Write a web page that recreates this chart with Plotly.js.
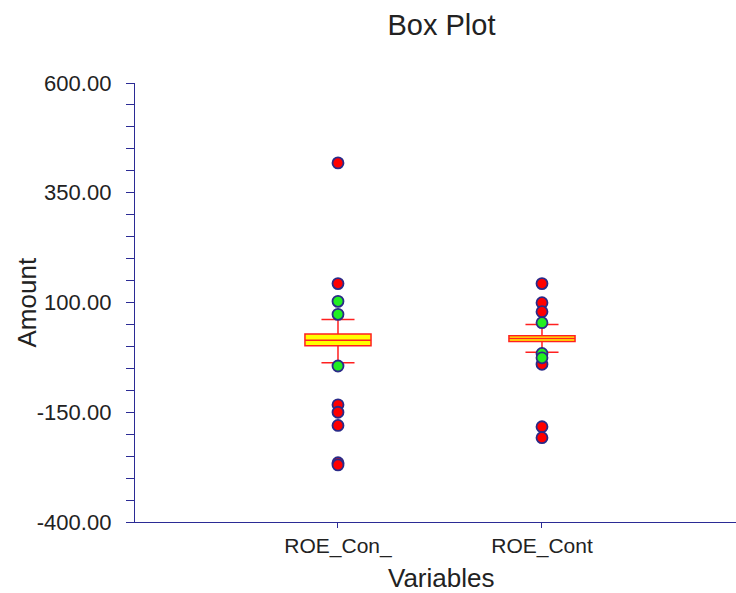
<!DOCTYPE html>
<html>
<head>
<meta charset="utf-8">
<script src="https://cdn.plot.ly/plotly-3.0.1.min.js"></script>
<style>html,body{margin:0;padding:0;background:#fff;}#chart{width:736px;height:593px;}</style>
</head>
<body>
<div id="chart"></div>
<script>
// Categories
const categories = ["ROE_Con_", "ROE_Cont"];
// Box statistics per category
const q1Values = [1.6, 11];
const medianValues = [14, 18];
const q3Values = [28, 24.5];
const lowerWhisker = [-37, -13.5];
const upperWhisker = [61, 50];
// Outliers: far (red) and near (green)
const farOutliersCon_ = [418, 143, -133, -150, -180, -265, -270];
const nearOutliersCon_ = [102.6, 73, -44.6];
const farOutliersCont = [143, 99.5, 79, -40.8, -183, -208];
const nearOutliersCont = [54, -16, -26];
// Y tick values
const yTickVals = [600, 350, 100, -150, -400];
const yTickText = yTickVals.map(v => v.toFixed(2));

const axisColor = "#2b2b95";
const textColor = "#222222";
const fontFam = "Liberation Sans, Arial, sans-serif";

const traces = [];
categories.forEach((c, i) => {
  traces.push({
    type: "box",
    x: [c],
    q1: [q1Values[i]],
    median: [medianValues[i]],
    q3: [q3Values[i]],
    lowerfence: [lowerWhisker[i]],
    upperfence: [upperWhisker[i]],
    width: 0.324,
    whiskerwidth: 0.5,
    fillcolor: "#ffff00",
    line: {color: "#ff2020", width: 1.5},
    boxpoints: false,
    hoverinfo: "skip",
    showlegend: false
  });
});

function outlierTrace(cat, vals, color) {
  return {
    type: "scatter",
    mode: "markers",
    x: vals.map(() => cat),
    y: vals,
    marker: {size: 11, color: color, line: {color: "#2a2a88", width: 1.8}},
    showlegend: false,
    hoverinfo: "y"
  };
}
traces.push(outlierTrace(categories[0], farOutliersCon_, "#ff0000"));
traces.push(outlierTrace(categories[0], nearOutliersCon_, "#22ee22"));
traces.push(outlierTrace(categories[1], farOutliersCont, "#ff0000"));
traces.push(outlierTrace(categories[1], nearOutliersCont, "#22ee22"));

const layout = {
  width: 736,
  height: 593,
  margin: {l: 135, r: 0, t: 83, b: 71, pad: 0},
  paper_bgcolor: "#ffffff",
  plot_bgcolor: "#ffffff",
  font: {family: fontFam, color: textColor},
  title: {
    text: "Box Plot",
    font: {size: 29, color: textColor, family: fontFam},
    x: 441.5 / 736, xref: "container", xanchor: "center",
    y: 1 - 25 / 593, yref: "container", yanchor: "middle"
  },
  xaxis: {
    type: "category",
    categoryorder: "array",
    categoryarray: categories,
    range: [-0.995, 1.951],
    showline: true,
    linecolor: axisColor,
    linewidth: 1.2,
    showgrid: false,
    zeroline: false,
    ticks: "outside",
    ticklen: 5,
    tickcolor: axisColor,
    tickfont: {size: 21, color: textColor}
  },
  yaxis: {
    range: [-400, 600],
    tickmode: "array",
    tickvals: yTickVals,
    ticktext: yTickText,
    showline: true,
    linecolor: axisColor,
    linewidth: 1.2,
    showgrid: false,
    zeroline: false,
    ticks: "outside",
    ticklen: 8,
    tickcolor: axisColor,
    tickfont: {size: 22, color: textColor},
    ticklabelstandoff: 10,
    minor: {dtick: 50, ticks: "outside", ticklen: 8, tickcolor: axisColor, showgrid: false}
  },
  annotations: [{
    text: "Variables",
    xref: "paper", yref: "paper",
    x: (441 - 135) / 601, y: -(578 - 521.7) / 438.3,
    xanchor: "center", yanchor: "middle",
    showarrow: false,
    font: {size: 26, color: textColor, family: fontFam}
  }, {
    text: "Amount",
    textangle: -90,
    xref: "paper", yref: "paper",
    x: -(135 - 26) / 601, y: 0.5,
    xanchor: "center", yanchor: "middle",
    showarrow: false,
    font: {size: 26, color: textColor, family: fontFam}
  }]
};

Plotly.newPlot("chart", traces, layout, {displayModeBar: false, staticPlot: true});
</script>
</body>
</html>
